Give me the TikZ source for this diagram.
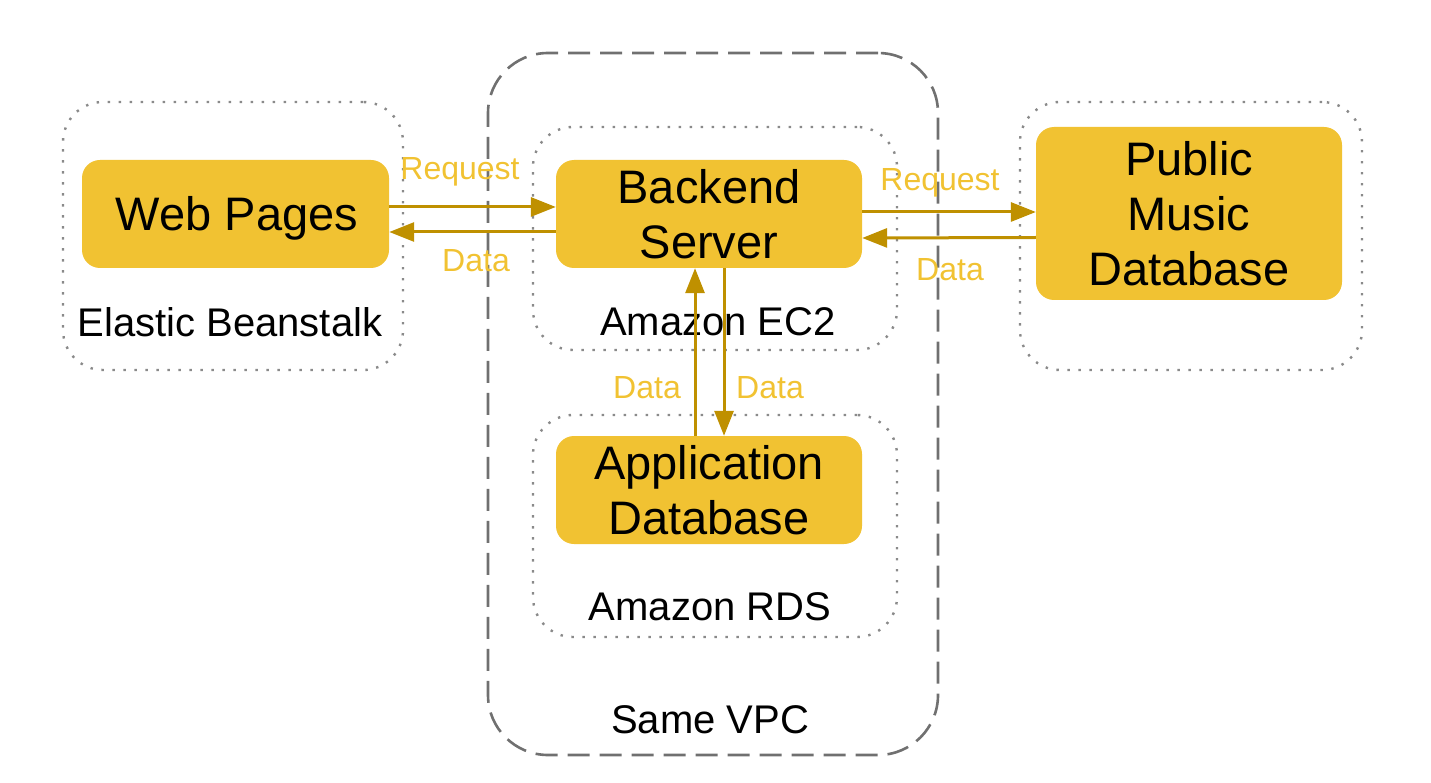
\documentclass[tikz,border=0pt]{standalone}
\usepackage{fontspec}
\setmainfont{Liberation Sans}
\usetikzlibrary{arrows.meta}
\definecolor{boxfill}{HTML}{F1C232}
\definecolor{arrcol}{HTML}{BF9000}
\definecolor{lblcol}{HTML}{F1C232}
\definecolor{dotcol}{HTML}{8A8A8A}
\definecolor{dashcol}{HTML}{707070}
\tikzset{
  svc/.style={rectangle, rounded corners=18pt, fill=boxfill, draw=none, align=center,
    font=\fontsize{47}{55}\selectfont, inner sep=0pt},
  grp/.style={rectangle, rounded corners=40pt, draw=dotcol, line width=2.4pt,
    dash pattern=on 2.4pt off 8.6pt, inner sep=0pt},
  vpc/.style={rectangle, rounded corners=60pt, draw=dashcol, line width=2.6pt,
    dash pattern=on 22pt off 10pt, inner sep=0pt},
  grplbl/.style={font=\fontsize{40}{48}\selectfont, text=black, inner sep=0pt},
  flowlbl/.style={font=\fontsize{32}{38}\selectfont, text=lblcol, inner sep=0pt},
  arr/.style={draw=arrcol, line width=3pt, -{Triangle[length=25pt,width=19pt]}}
}
\begin{document}
\begin{tikzpicture}[x=1pt,y=-1pt]
\useasboundingbox (0,0) rectangle (1431,783);
% containers
\node[vpc, minimum width=450pt, minimum height=702pt] (vpcbox) at (713,404) {};
\node[grp, minimum width=340pt, minimum height=268pt] (ebbox) at (233,236) {};
\node[grp, minimum width=364pt, minimum height=223pt] (ec2box) at (715,238.5) {};
\node[grp, minimum width=364pt, minimum height=222pt] (rdsbox) at (715,526) {};
\node[grp, minimum width=342pt, minimum height=268pt] (pubbox) at (1191,236) {};
% group labels
\node[grplbl] (eblbl) at (230,322) {Elastic Beanstalk};
\node[grplbl] (ec2lbl) at (718,322) {Amazon EC2};
\node[grplbl] (rdslbl) at (710,607) {Amazon RDS};
\node[grplbl] (vpclbl) at (710,720) {Same VPC};
% services
\node[svc, minimum width=307pt, minimum height=108pt] (web) at (235.5,214) {};
\node[font=\fontsize{47}{55}\selectfont, inner sep=0pt] (webtxt) at (237,218) {Web Pages};
\node[svc, minimum width=306pt, minimum height=108pt] (backend) at (709,214) {Backend\\Server};
\node[svc, minimum width=306pt, minimum height=108pt] (appdb) at (709,490) {Application\\Database};
\node[svc, minimum width=306pt, minimum height=173pt] (pub) at (1189,213.5) {Public\\Music\\Database};
% arrows
\draw[arr] ([yshift=7pt]web.east) -- ([yshift=7pt]backend.west);
\draw[arr] ([yshift=-18pt]backend.west) -- ([yshift=-18pt]web.east);
\draw[arr] ([yshift=2pt]backend.east) -- ([yshift=1.5pt]pub.west);
\draw[arr] ([yshift=-24pt]pub.west) -- ([yshift=-24pt]backend.east);
\draw[arr] ([xshift=-14pt]appdb.north) -- ([xshift=-14pt]backend.south);
\draw[arr] ([xshift=15pt]backend.south) -- ([xshift=15pt]appdb.north);
% flow labels
\node[flowlbl] (rq1) at (460,172) {Request};
\node[flowlbl] (dt1) at (476,261) {Data};
\node[flowlbl] (rq2) at (940,183) {Request};
\node[flowlbl] (dt2) at (950,270) {Data};
\node[flowlbl] (dt3) at (647,388) {Data};
\node[flowlbl] (dt4) at (770,388) {Data};
\end{tikzpicture}
\end{document}
